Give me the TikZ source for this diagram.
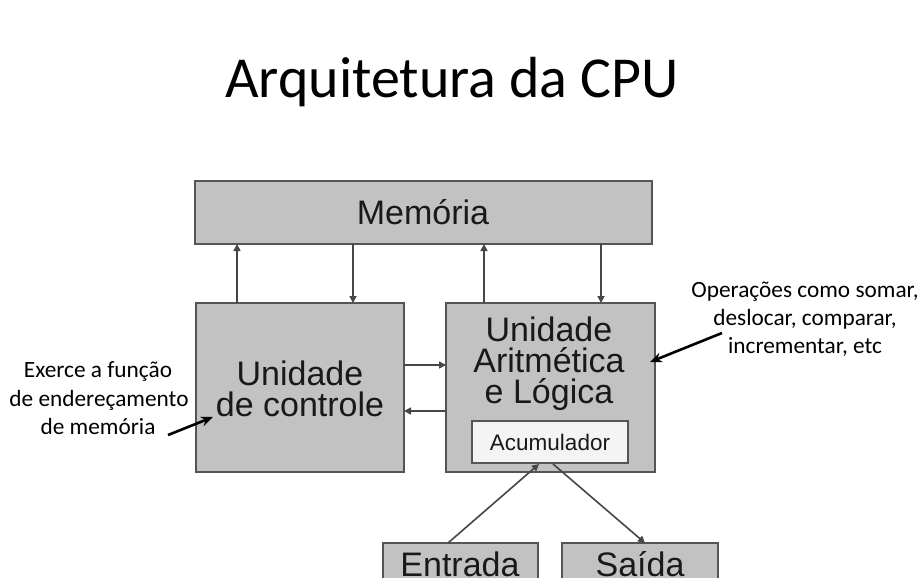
\documentclass[tikz,border=0pt]{standalone}
\usepackage{fontspec}
\setmainfont{Carlito}
\newfontfamily\arialf{Liberation Sans}
\usetikzlibrary{arrows.meta}
\definecolor{boxfill}{RGB}{194,194,194}
\definecolor{boxdraw}{RGB}{85,85,85}
\definecolor{accfill}{RGB}{244,244,244}
\definecolor{linec}{RGB}{70,70,70}
\definecolor{txt}{RGB}{25,25,25}
\tikzset{
  blockbox/.style={draw=boxdraw, fill=boxfill, line width=2pt},
  accbox/.style={draw=boxdraw, fill=accfill, line width=1.8pt},
  flow/.style={draw=linec, line width=1.6pt, -{Triangle[length=7pt,width=7pt]}},
  note/.style={draw=black, line width=2.6pt, -{Stealth[length=12pt,width=10pt]}},
  blocktxt/.style={font=\arialf\fontsize{34}{31}\selectfont, text=txt, align=center, inner sep=0pt},
  notetxt/.style={font=\fontsize{23.3}{29}\selectfont, align=center, inner sep=0pt},
}
\begin{document}
\begin{tikzpicture}[x=1pt,y=-1pt]
\clip (0,0) rectangle (924,578);
\fill[white] (0,0) rectangle (924,578);
% title
\node[font=\fontsize{58}{62}\selectfont, anchor=base, inner sep=0pt] (title) at (452,98) {Arquitetura da CPU};
% boxes
\path[blockbox] (195,181) rectangle (652,244);
\node[blocktxt] (mem) at (423,212) {Memória};
\coordinate (memS1) at (237,244);
\coordinate (memS2) at (353,244);
\coordinate (memS3) at (484,244);
\coordinate (memS4) at (601,244);
\path[blockbox] (196,303) rectangle (404,472);
\node[blocktxt] (uc) at (300,389) {Unidade\\de controle};
\path[blockbox] (446,303) rectangle (655,472);
\node[blocktxt] (ula) at (549,364) {Unidade\\Aritmética\\e Lógica};
\node[accbox, minimum width=156pt, minimum height=42pt, inner sep=0pt,
      font=\arialf\fontsize{22.5}{24}\selectfont, text=txt] (acc) at (550,442) {Acumulador};
\path[blockbox] (383,543) rectangle (538,620);
\node[blocktxt, anchor=base] (ent) at (460,576) {Entrada};
\path[blockbox] (562,543) rectangle (718,620);
\node[blocktxt, anchor=base] (sai) at (640,576) {Saída};
\coordinate (ucN1) at (237,303);
\coordinate (ucN2) at (353,303);
\coordinate (ulaN1) at (484,303);
\coordinate (ulaN2) at (601,303);
\coordinate (ucE1) at (404,365);
\coordinate (ucE2) at (404,411);
\coordinate (ulaW1) at (446,365);
\coordinate (ulaW2) at (446,411);
\coordinate (entT) at (448,543);
\coordinate (saiT) at (645,543);
\coordinate (accB1) at (539,464);
\coordinate (accB2) at (553,464);
% flows
\draw[flow] (ucN1) -- (memS1);
\draw[flow] (memS2) -- (ucN2);
\draw[flow] (ulaN1) -- (memS3);
\draw[flow] (memS4) -- (ulaN2);
\draw[flow] (ucE1) -- (ulaW1);
\draw[flow] (ulaW2) -- (ucE2);
\draw[flow] (entT) -- (accB1);
\draw[flow] (accB2) -- (saiT);
% notes
\node[notetxt, anchor=base] (n1a) at (805,297) {Operações como somar,};
\node[notetxt, anchor=base] (n1b) at (805,325) {deslocar, comparar,};
\node[notetxt, anchor=base] (n1c) at (805,353) {incrementar, etc};
\coordinate (n1t) at (722,333);
\coordinate (n1h) at (650,362);
\draw[note] (n1t) -- (n1h);
\node[notetxt, anchor=base] (n2a) at (98,377) {Exerce a função};
\node[notetxt, anchor=base] (n2b) at (99,406) {de endereçamento};
\node[notetxt, anchor=base] (n2c) at (98,434) {de memória};
\coordinate (n2t) at (168,435);
\coordinate (n2h) at (213,417);
\draw[note] (n2t) -- (n2h);
\end{tikzpicture}
\end{document}
